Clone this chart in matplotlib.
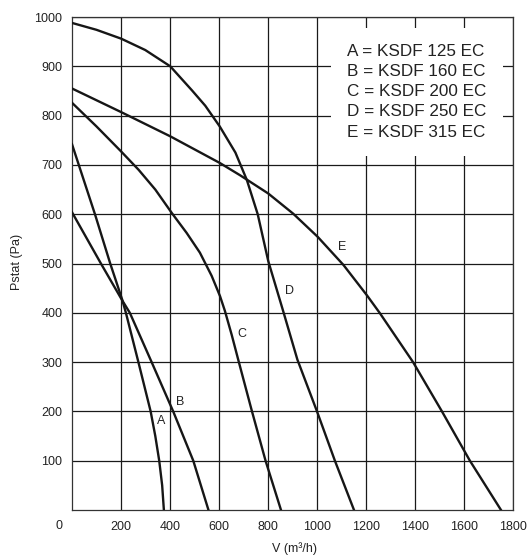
import matplotlib
matplotlib.use("Agg")
import matplotlib.pyplot as plt

plt.rcParams['font.family'] = ['Liberation Sans', 'DejaVu Sans']

# fan curves: V (m3/h) vs Pstat (Pa)
a_v = [0, 95, 156, 204, 220, 271, 306, 321, 340, 356, 368, 375]
a_p = [742, 598, 500, 428, 400, 300, 230, 200, 150, 100, 50, 0]

b_v = [0, 118, 204, 236, 325, 413, 495, 557]
b_p = [604, 500, 426, 400, 300, 200, 100, 0]

c_v = [0, 100, 201, 272, 340, 408, 468, 522, 570, 604, 624, 652, 680, 733, 790, 853]
c_p = [826, 778, 727, 690, 650, 602, 562, 522, 475, 434, 404, 355, 302, 203, 100, 0]

d_v = [0, 100, 201, 299, 401, 490, 544, 603, 667, 714, 758, 801, 861, 920, 1000, 1073, 1151]
d_p = [988, 974, 956, 933, 900, 851, 820, 778, 725, 669, 600, 505, 405, 305, 200, 100, 0]

e_v = [0, 201, 401, 603, 686, 714, 801, 903, 1003, 1108, 1203, 1257, 1392, 1510, 1624, 1751]
e_p = [855, 807, 758, 704, 679, 670, 642, 601, 554, 497, 436, 399, 300, 200, 100, 0]

curve_names = ['A', 'B', 'C', 'D', 'E']
label_v = [363, 441, 693, 886, 1103]
label_p = [180, 219, 356, 444, 534]
models = ['KSDF 125 EC', 'KSDF 160 EC', 'KSDF 200 EC', 'KSDF 250 EC', 'KSDF 315 EC']

x_ticks = [200, 400, 600, 800, 1000, 1200, 1400, 1600, 1800]
y_ticks = [100, 200, 300, 400, 500, 600, 700, 800, 900, 1000]

fig = plt.figure(figsize=(5.30, 5.56), dpi=100)
ax = fig.add_axes([72 / 530, 46 / 556, 441 / 530, 493 / 556])

for v, p in [(a_v, a_p), (b_v, b_p), (c_v, c_p), (d_v, d_p), (e_v, e_p)]:
    ax.plot(v, p, color='#161616', lw=1.7, zorder=3, solid_joinstyle='round')

for name, v, p in zip(curve_names, label_v, label_p):
    ax.text(v, p, name, fontsize=9, ha='center', va='center', color='#222222', zorder=4)

legend_text = "\n".join(f"{n} = {m}" for n, m in zip(curve_names, models))
ax.text(1408, 848, legend_text, fontsize=12.3, ha='center', va='center',
        multialignment='left', linespacing=1.42, color='#222222', zorder=5,
        bbox=dict(boxstyle='square,pad=0.95', facecolor='white', edgecolor='none'))

ax.set_xlim(0, 1800)
ax.set_ylim(0, 1000)
ax.set_xticks(x_ticks)
ax.set_yticks(y_ticks)
ax.tick_params(length=0, labelsize=9, colors='#222222')
ax.tick_params(axis='x', pad=8)
ax.tick_params(axis='y', pad=7)
ax.grid(True, color='#1a1a1a', lw=0.9)
ax.set_axisbelow(True)
for s in ax.spines.values():
    s.set_color('#333333')
    s.set_linewidth(0.9)

# shared origin label sits off the corner
ax.text(-0.03, -0.032, '0', transform=ax.transAxes, fontsize=9, ha='center', va='center', color='#222222')

fig.text(295 / 530, 1 - 549 / 556, 'V (m³/h)', fontsize=9, ha='center', va='center', color='#222222')
fig.text(17 / 530, 1 - 262 / 556, 'Pstat (Pa)', fontsize=9, ha='center', va='center', rotation=90, color='#222222')

fig.savefig('out.png', dpi=100)
